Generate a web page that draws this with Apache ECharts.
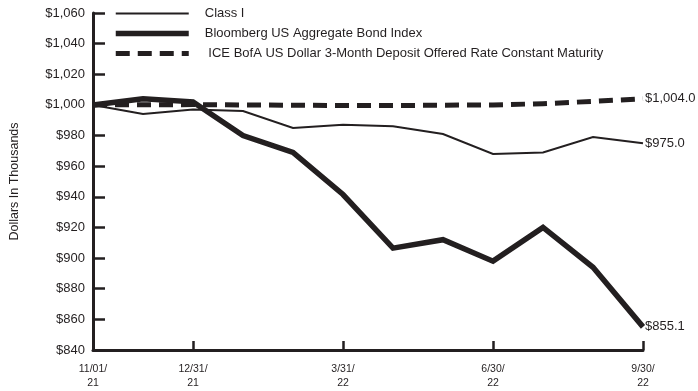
<!DOCTYPE html>
<html>
<head>
<meta charset="utf-8">
<script src="https://cdn.jsdelivr.net/npm/echarts@6/dist/echarts.min.js"></script>
<style>html,body{margin:0;padding:0;background:#fff}#c{width:698px;height:391px}</style>
</head>
<body>
<div id="c"></div>
<script>
const categories = ['11/01/21','11/30/21','12/31/21','1/31/22','2/28/22','3/31/22','4/30/22','5/31/22','6/30/22','7/31/22','8/31/22','9/30/22'];
const tickLabels = ['11/01/\n21','','12/31/\n21','','','3/31/\n22','','','6/30/\n22','','','9/30/\n22'];
const seriesNames = ['Class I','Bloomberg US Aggregate Bond Index',' ICE BofA US Dollar 3-Month Deposit Offered Rate Constant Maturity'];
const classI = [1000, 994, 997, 996, 985, 987, 986, 981, 968, 969, 979, 975.0];
const bloomberg = [1000, 1004, 1002, 980, 969, 941.5, 906.5, 912, 898, 920, 894, 855.1];
const ice = [1000, 1000.1, 1000.2, 1000, 999.8, 999.6, 999.6, 999.8, 1000, 1000.8, 1002.3, 1004.0];
const yMin = 840, yMax = 1060, yStep = 20;

const ink = '#231f20';
const font = "'Liberation Sans Narrow', 'Arial Narrow', 'Liberation Sans', sans-serif";
const chart = echarts.init(document.getElementById('c'));
const fmtMoney = v => '$' + v.toLocaleString('en-US');
const endFmt = v => '$' + Number(v).toLocaleString('en-US', {minimumFractionDigits:1, maximumFractionDigits:1});
function lineSeries(name, data, width, type) {
  return {
    name, type: 'line', data, symbol: 'none', smooth: false,
    lineStyle: {color: ink, width, type: type || 'solid', cap: 'butt', join: 'miter'},
    itemStyle: {color: ink},
    endLabel: {show: true, formatter: p => endFmt(p.value), color: ink, fontFamily: font, fontSize: 13, distance: 2},
    z: width
  };
}
chart.setOption({
  animation: false,
  grid: {left: 84, right: 55, top: 13, bottom: 41},
  legend: {
    orient: 'vertical', left: 108, top: 2, itemWidth: 73, itemHeight: 14, itemGap: 7,
    itemStyle: {opacity: 0},
    lineStyle: {width: 'inherit'},
    textStyle: {color: ink, fontFamily: font, fontSize: 13, padding: [0, 0, 0, 11]},
    data: seriesNames
  },
  xAxis: {
    type: 'category', data: categories, boundaryGap: false,
    axisLine: {lineStyle: {color: ink, width: 3}},
    axisTick: {inside: true, length: 9, lineStyle: {color: ink, width: 2.5}, interval: i => tickLabels[i] !== ''},
    axisLabel: {interval: 0, formatter: (v, i) => tickLabels[i], color: ink, fontFamily: font, fontSize: 10.5, lineHeight: 14, margin: 12}
  },
  yAxis: {
    type: 'value', min: yMin, max: yMax, interval: yStep,
    name: 'Dollars In Thousands', nameLocation: 'middle', nameGap: 72, nameRotate: 90,
    nameTextStyle: {color: ink, fontFamily: font, fontSize: 12.5},
    splitLine: {show: false},
    axisLine: {show: true, lineStyle: {color: ink, width: 3}},
    axisTick: {show: true, inside: true, length: 12, lineStyle: {color: ink, width: 2.5}},
    axisLabel: {formatter: fmtMoney, color: ink, fontFamily: font, fontSize: 13, margin: 8}
  },
  series: [
    lineSeries(seriesNames[0], classI, 2),
    lineSeries(seriesNames[1], bloomberg, 5.5),
    lineSeries(seriesNames[2], ice, 5, [14, 8])
  ]
});
</script>
</body>
</html>
